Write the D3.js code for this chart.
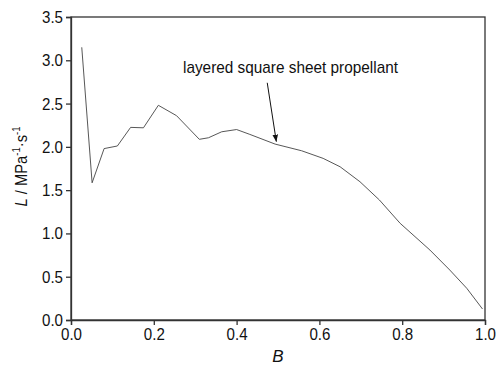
<!DOCTYPE html>
<html>
<head>
<meta charset="utf-8">
<script src="https://cdn.jsdelivr.net/npm/d3@7"></script>
<style>
  body { margin: 0; background: #fff; }
  svg text { font-family: "Liberation Sans", Arial, sans-serif; fill: #111; }
</style>
</head>
<body>
<div id="chart"></div>
<script>
// B values (burnt fraction) and L values
var bValues = [0.026, 0.051, 0.080, 0.112, 0.144, 0.175, 0.211, 0.255, 0.310, 0.332, 0.364, 0.400, 0.432, 0.493, 0.557, 0.609, 0.650, 0.698, 0.745, 0.795, 0.867, 0.915, 0.956, 0.994];
var lValues = [3.15, 1.585, 1.98, 2.01, 2.225, 2.22, 2.48, 2.36, 2.087, 2.105, 2.174, 2.20, 2.144, 2.032, 1.955, 1.867, 1.77, 1.597, 1.386, 1.117, 0.808, 0.577, 0.366, 0.127];
var xTicks = [0.0, 0.2, 0.4, 0.6, 0.8, 1.0];
var yTicks = [0.0, 0.5, 1.0, 1.5, 2.0, 2.5, 3.0, 3.5];
var labelText = "layered square sheet propellant";
var arrowFrom = [0.474, 2.74];   // B, L of arrow tail
var arrowTo = [0.496, 2.06];     // B, L of arrow tip

var width = 497, height = 365;
var margin = {top: 17, right: 12, bottom: 45, left: 71};

var svg = d3.select("#chart").append("svg")
    .attr("width", width)
    .attr("height", height);

var defs = svg.append("defs");
defs.append("marker")
    .attr("id", "arrowHead")
    .attr("viewBox", "0 0 10 10")
    .attr("refX", 10).attr("refY", 5)
    .attr("markerWidth", 7).attr("markerHeight", 7)
    .attr("markerUnits", "userSpaceOnUse")
    .attr("orient", "auto")
  .append("path")
    .attr("d", "M0,1 L10,5 L0,9 Z")
    .attr("fill", "#111");

var x = d3.scaleLinear().domain([0, 1]).range([margin.left, width - margin.right]);
var y = d3.scaleLinear().domain([0, 3.5]).range([height - margin.bottom, margin.top]);

var xAxis = d3.axisBottom(x).tickValues(xTicks).tickFormat(d3.format(".1f")).tickSize(5).tickPadding(3);
var yAxis = d3.axisLeft(y).tickValues(yTicks).tickFormat(d3.format(".1f")).tickSize(5).tickPadding(3);

// frame
svg.append("rect")
    .attr("x", x(0)).attr("y", y(3.5))
    .attr("width", x(1) - x(0)).attr("height", y(0) - y(3.5))
    .attr("fill", "none").attr("stroke", "#333").attr("stroke-width", 1.3);

var gx = svg.append("g")
    .attr("transform", "translate(0," + y(0) + ")")
    .call(xAxis);
var gy = svg.append("g")
    .attr("transform", "translate(" + x(0) + ",0)")
    .call(yAxis);

[gx, gy].forEach(function(g) {
    g.select(".domain").attr("stroke", "#333").attr("stroke-width", 1.3);
    g.selectAll(".tick line").attr("stroke", "#333").attr("stroke-width", 1.3);
    g.selectAll(".tick text").attr("font-size", 17).attr("fill", "#111")
        .attr("textLength", 21).attr("lengthAdjust", "spacingAndGlyphs")
        .style("font-family", '"Liberation Sans", Arial, sans-serif');
});

var data = bValues.map(function(b, i) { return {b: b, l: lValues[i]}; });

var line = d3.line()
    .x(function(d) { return x(d.b); })
    .y(function(d) { return y(d.l); });

svg.append("path")
    .datum(data)
    .attr("fill", "none")
    .attr("stroke", "#444")
    .attr("stroke-width", 0.9)
    .attr("d", line);

// annotation
svg.append("text")
    .attr("x", 183).attr("y", 73)
    .attr("font-size", 17)
    .attr("textLength", 215).attr("lengthAdjust", "spacingAndGlyphs")
    .text(labelText);

svg.append("line")
    .attr("x1", x(arrowFrom[0])).attr("y1", y(arrowFrom[1]))
    .attr("x2", x(arrowTo[0])).attr("y2", y(arrowTo[1]))
    .attr("stroke", "#111").attr("stroke-width", 1)
    .attr("marker-end", "url(#arrowHead)");

// axis titles
svg.append("text")
    .attr("x", x(0.5)).attr("y", 362)
    .attr("text-anchor", "middle")
    .attr("font-size", 17)
    .attr("font-style", "italic")
    .text("B");

var yt = svg.append("text")
    .attr("transform", "translate(27," + (y(1.75) - 2) + ") rotate(-90) scale(0.87,1)")
    .attr("text-anchor", "middle")
    .attr("font-size", 17);
yt.append("tspan").attr("font-style", "italic").text("L");
yt.append("tspan").text(" / MPa");
yt.append("tspan").attr("font-size", 11).attr("dy", -7).text("-1");
yt.append("tspan").attr("dy", 7).text("\u00b7s");
yt.append("tspan").attr("font-size", 11).attr("dy", -7).text("-1");
</script>
</body>
</html>
